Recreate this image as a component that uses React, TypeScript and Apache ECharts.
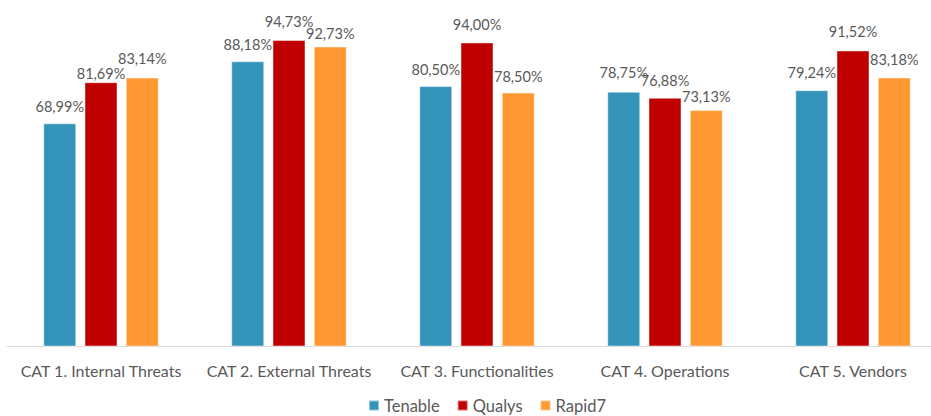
import React, { useEffect, useRef } from "react";
import * as echarts from "echarts";

const categories = [
  "CAT 1. Internal Threats",
  "CAT 2. External Threats",
  "CAT 3. Functionalities",
  "CAT 4. Operations",
  "CAT 5. Vendors",
];
const tenable = [68.99, 88.18, 80.5, 78.75, 79.24];
const qualys = [81.69, 94.73, 94.0, 76.88, 91.52];
const rapid7 = [83.14, 92.73, 78.5, 73.13, 83.18];

const seriesNames = ["Tenable", "Qualys", "Rapid7"];
const colors = ["#3494BA", "#C00000", "#FF9933"];

// label distances above bars (px), per series, per category (style only)
const tenableLabelGap = [9, 9, 9, 12, 10];
const qualysLabelGap = [1, 11, 10, 10, 11];
const rapid7LabelGap = [12, 6, 9, 6, 10];

const FONT = "Lato, 'Open Sans', sans-serif";

export default function App() {
  const ref = useRef<HTMLDivElement>(null);
  useEffect(() => {
    if (!ref.current) return;
    const chart = echarts.init(ref.current, undefined, { renderer: "svg" });
    const fmt = (p: any) => Number(p.value).toFixed(2).replace(".", ",") + "%";
    const mk = (name: string, data: number[], gaps: number[], color: string) => ({
      name,
      type: "bar",
      data: data.map((v, i) => ({ value: v, label: { distance: gaps[i] } })),
      barWidth: 33,
      barGap: "25%",
      itemStyle: {
        color,
        borderColor: "rgba(255,255,255,0.45)",
        borderWidth: 1,
      },
      label: {
        show: true,
        position: "top",
        formatter: fmt,
        color: "#595959",
        fontSize: 14.5,
        fontFamily: FONT,
      },
    });
    chart.setOption({
      animation: false,
      color: colors,
      grid: {
        left: 7,
        width: 940,
        top: 23,
        bottom: 69.5,
        containLabel: false,
        outerBoundsMode: "none",
      },
      legend: {
        top: 397,
        left: 368,
        padding: 0,
        itemWidth: 10,
        itemHeight: 10,
        itemGap: 17,
        icon: "rect",
        textStyle: { color: "#595959", fontSize: 16.5, lineHeight: 17, fontFamily: FONT },
        data: seriesNames,
      },
      xAxis: {
        type: "category",
        data: categories,
        axisLine: { lineStyle: { color: "#D9D9D9", width: 1 } },
        axisTick: { show: false },
        axisLabel: {
          color: "#595959",
          fontSize: 16,
          fontFamily: FONT,
          margin: 16,
          interval: 0,
        },
      },
      yAxis: {
        type: "value",
        min: 0,
        max: 100,
        show: false,
        splitLine: { show: false },
      },
      series: [
        mk(seriesNames[0], tenable, tenableLabelGap, colors[0]),
        mk(seriesNames[1], qualys, qualysLabelGap, colors[1]),
        mk(seriesNames[2], rapid7, rapid7LabelGap, colors[2]),
      ],
    });
    return () => chart.dispose();
  }, []);
  return (
    <div
      ref={ref}
      style={{ position: "absolute", left: 0, top: 0, width: 931, height: 416, background: "#fff" }}
    />
  );
}
